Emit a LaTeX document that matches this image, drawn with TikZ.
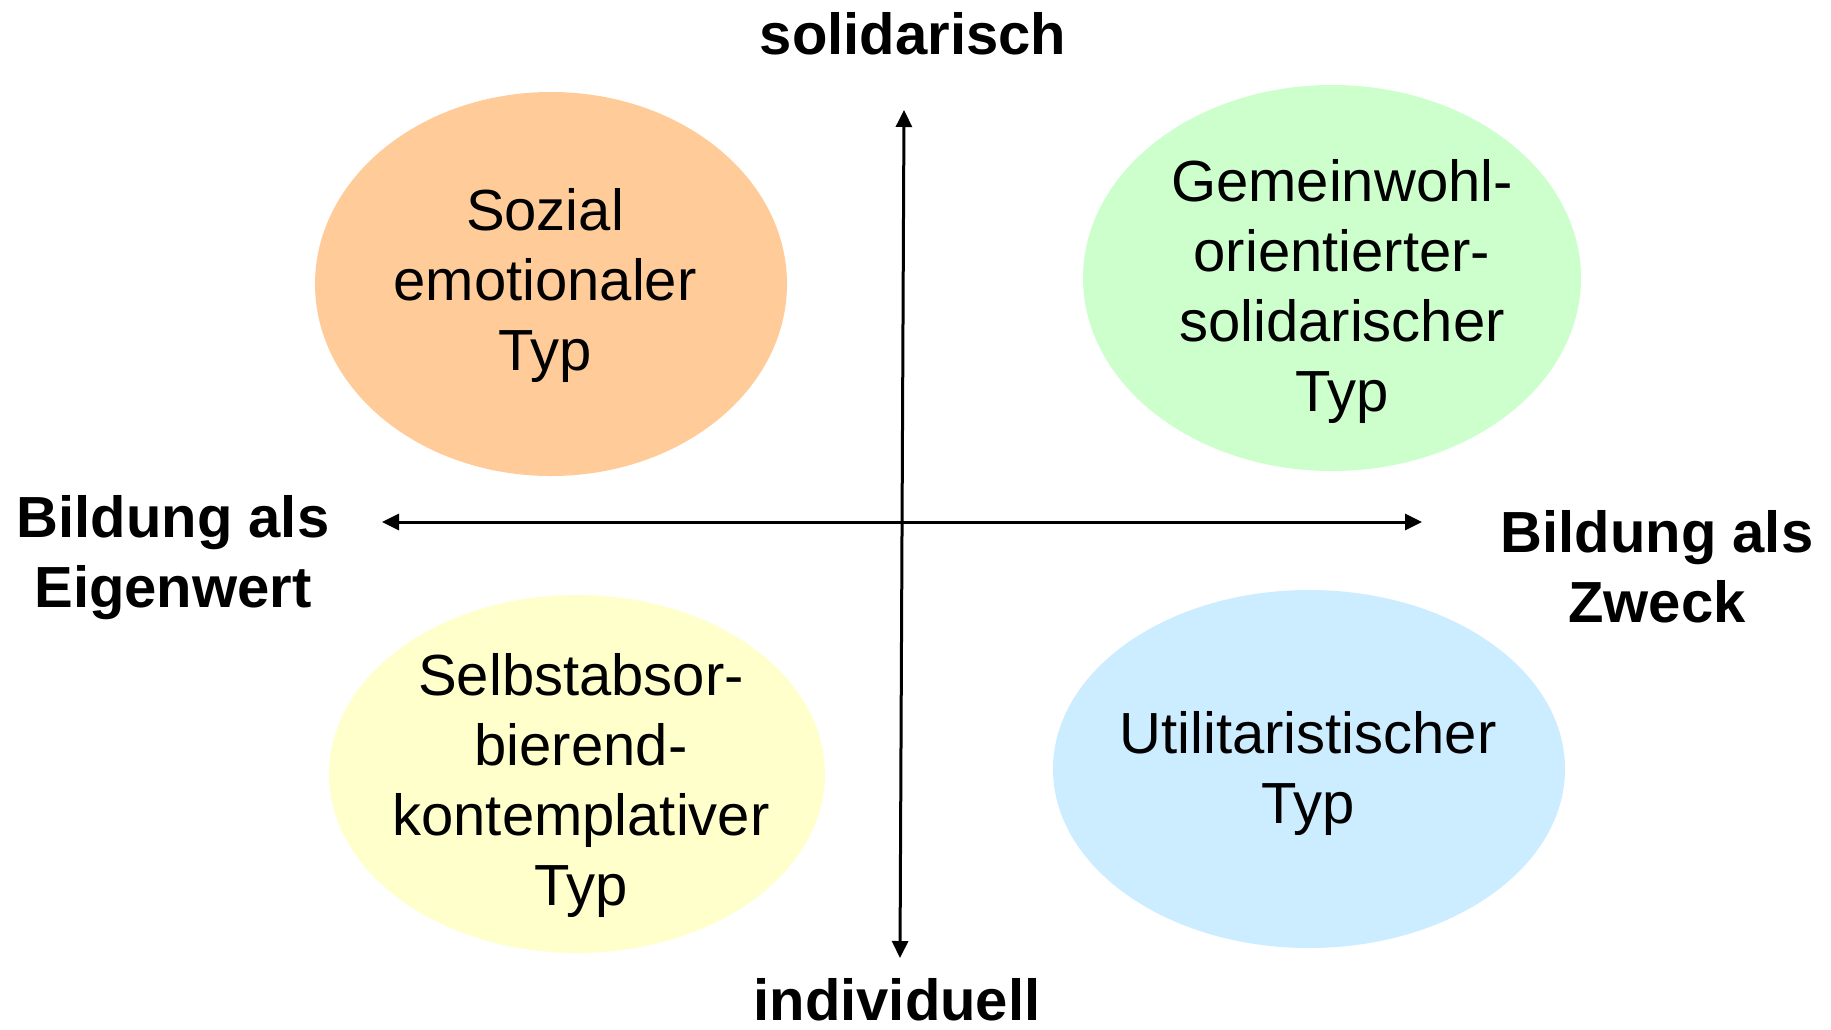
\documentclass[tikz,border=0pt]{standalone}
\usepackage{fontspec}
\setmainfont{Liberation Sans}
\usetikzlibrary{arrows.meta}
\definecolor{corange}{HTML}{FFCC99}
\definecolor{cgreen}{HTML}{CCFFCC}
\definecolor{cyellow}{HTML}{FFFFCC}
\definecolor{cblue}{HTML}{CCECFF}
\tikzset{
  typtext/.style={align=center, font=\fontsize{58}{70}\selectfont, inner sep=0pt},
  axislabel/.style={align=center, font=\fontsize{58}{70}\selectfont\bfseries, inner sep=0pt},
  axisline/.style={line width=3pt, {Triangle[length=17pt,width=16pt]}-{Triangle[length=17pt,width=16pt]}}
}
\begin{document}
\begin{tikzpicture}[x=1pt,y=-1pt]
\useasboundingbox (0,0) rectangle (1831,1029);
\fill[white] (0,0) rectangle (1831,1029);
% ellipses
\fill[corange] (551,284) ellipse [x radius=236, y radius=192];
\fill[cgreen] (1332,278) ellipse [x radius=249, y radius=193];
\fill[cyellow] (577,774) ellipse [x radius=248, y radius=179];
\fill[cblue] (1309,769) ellipse [x radius=256, y radius=179];
\node[typtext] (tso) at (545,285) {Sozial\\emotionaler\\Typ};
\node[typtext] (tgo) at (1342,291) {Gemeinwohl-\\orientierter-\\solidarischer\\Typ};
\node[typtext] (tse) at (581,785) {Selbstabsor-\\bierend-\\kontemplativer\\Typ};
\node[typtext] (tut) at (1308,773) {Utilitaristischer\\Typ};
% axes
\coordinate (top) at (904,110);
\coordinate (bottom) at (900,958);
\coordinate (left) at (382,522);
\coordinate (right) at (1422,522);
\draw[axisline] (bottom) -- (top);
\draw[axisline] (left) -- (right);
% labels
\node[axislabel] (lsol) at (913,34) {solidarisch};
\node[axislabel] (lind) at (897,1000) {individuell};
\node[axislabel] (leig) at (173,558) {Bildung als\\Eigenwert};
\node[axislabel] (lzw) at (1657,567) {Bildung als\\Zweck};
\end{tikzpicture}
\end{document}
